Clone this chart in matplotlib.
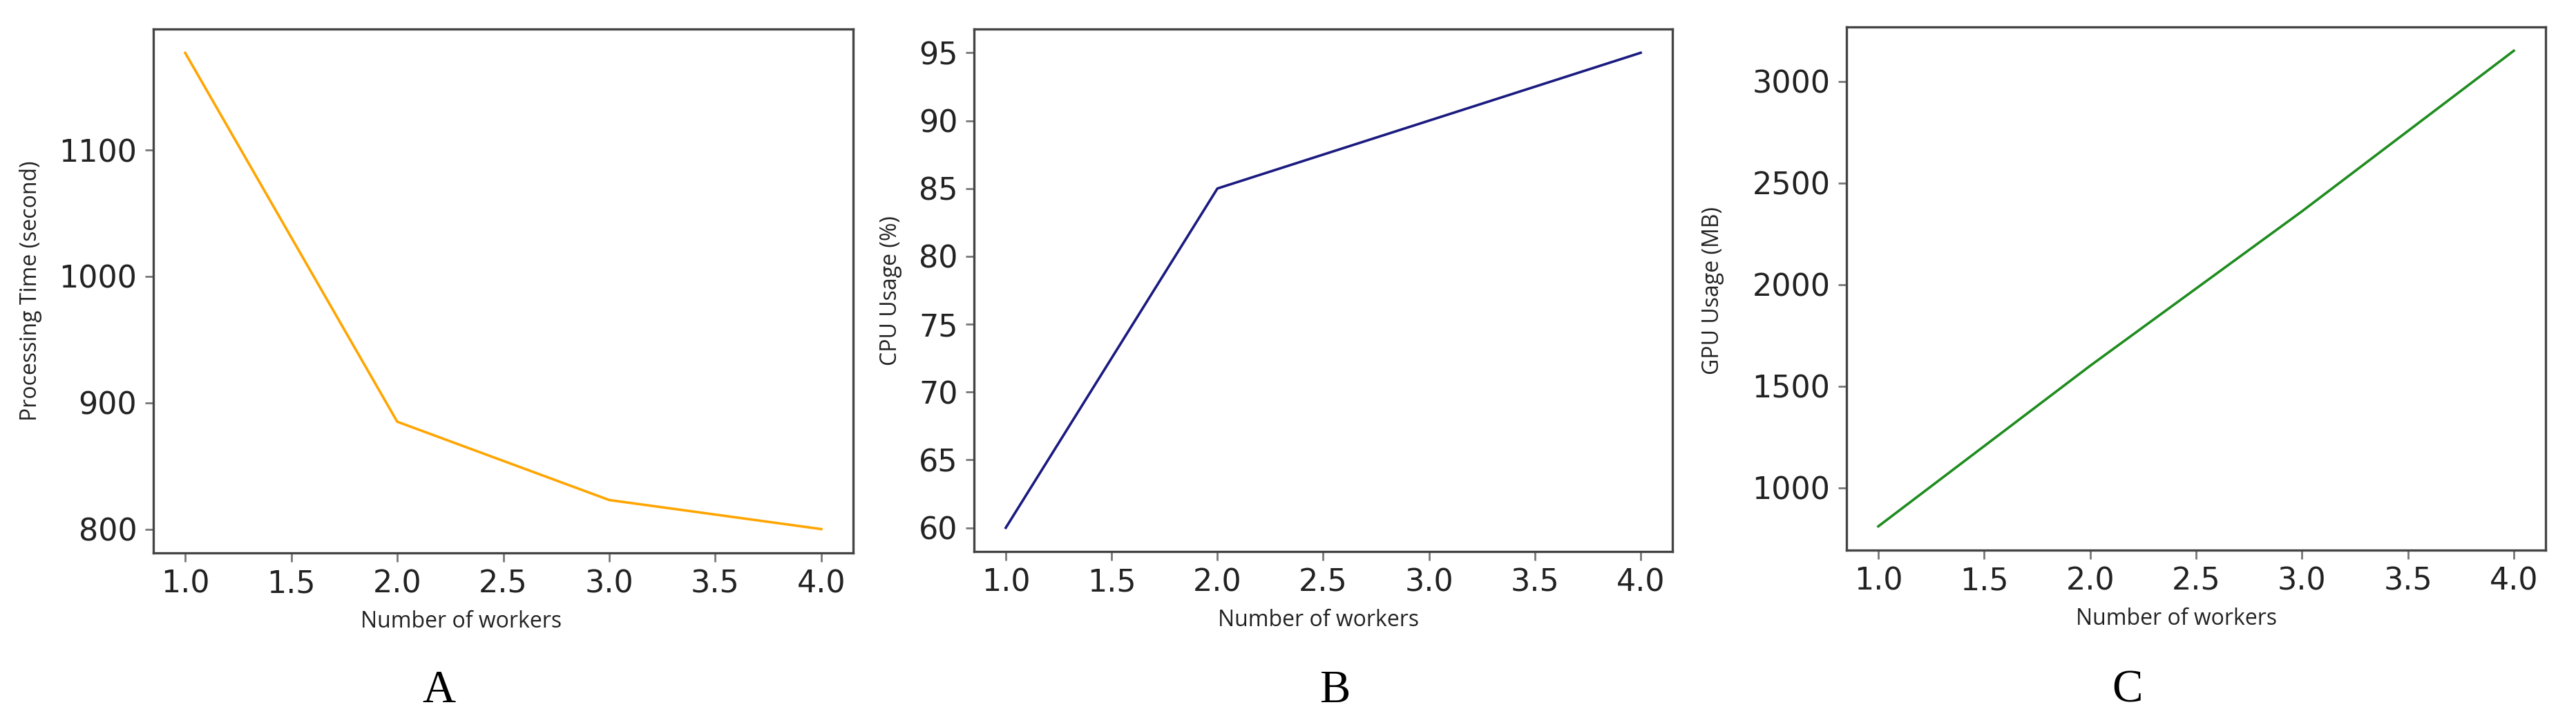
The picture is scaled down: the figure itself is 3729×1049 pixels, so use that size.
import matplotlib
matplotlib.use('Agg')
import matplotlib.pyplot as plt

# ── Data ──────────────────────────────────────────────────────────────────────
workers = [1.0, 2.0, 3.0, 4.0]
proc_time = [1177, 885, 823, 800]      # seconds
cpu_usage = [60, 85, 90, 95]           # %
gpu_usage = [810, 1600, 2360, 3150]    # MB

x_ticks = [1.0, 1.5, 2.0, 2.5, 3.0, 3.5, 4.0]
panels = ['A', 'B', 'C']

# ── Figure ────────────────────────────────────────────────────────────────────
W, H = 3729, 1049
fig = plt.figure(figsize=(W / 100, H / 100), dpi=100)

def px_axes(left, top, right, bottom):
    return fig.add_axes([left / W, 1 - bottom / H, (right - left) / W, (bottom - top) / H])

ax_a = px_axes(222, 42, 1235, 800)
ax_b = px_axes(1410, 42, 2421, 798)
ax_c = px_axes(2673, 39, 3685, 796)

label_font = ['Open Sans', 'DejaVu Sans']
specs = [
    (ax_a, proc_time, '#FFA500', 'Processing Time (second)', (668, 900), (45, 421), 635),
    (ax_b, cpu_usage, '#1a1a80', 'CPU Usage (%)', (1909, 898), (1289, 421), 1932),
    (ax_c, gpu_usage, '#1e8c1e', 'GPU Usage (MB)', (3151, 895), (2480, 421), 3079),
]

for letter, (ax, vals, col, ylab, xl_pos, yl_pos, letter_x) in zip(panels, specs):
    ax.plot(workers, vals, color=col, lw=2.6)
    ax.set_xticks(x_ticks)
    ax.set_xticklabels([f'{t:.1f}' for t in x_ticks])
    ax.tick_params(axis='both', labelsize=32, length=9, width=2, color='#777777',
                   labelcolor='#222222', pad=8)
    for sp in ax.spines.values():
        sp.set_color('#444444')
        sp.set_linewidth(2.4)

    # axis labels placed in figure pixel coordinates
    fig.text(xl_pos[0] / W, 1 - xl_pos[1] / H, 'Number of workers', family=label_font,
             fontsize=23, color='#222222', ha='center', va='center')
    fig.text(yl_pos[0] / W, 1 - yl_pos[1] / H, ylab, family=label_font,
             fontsize=23, color='#222222', ha='center', va='center', rotation=90)

    # panel letter
    fig.text(letter_x / W, 1 - 1016 / H, letter,
             family=['Liberation Serif', 'DejaVu Serif'], fontsize=48, color='black',
             ha='center', va='baseline')

ax_a.set_yticks([800, 900, 1000, 1100])
ax_b.set_yticks([60, 65, 70, 75, 80, 85, 90, 95])
ax_c.set_yticks([1000, 1500, 2000, 2500, 3000])

fig.savefig('out.png', dpi=100, facecolor='white')
